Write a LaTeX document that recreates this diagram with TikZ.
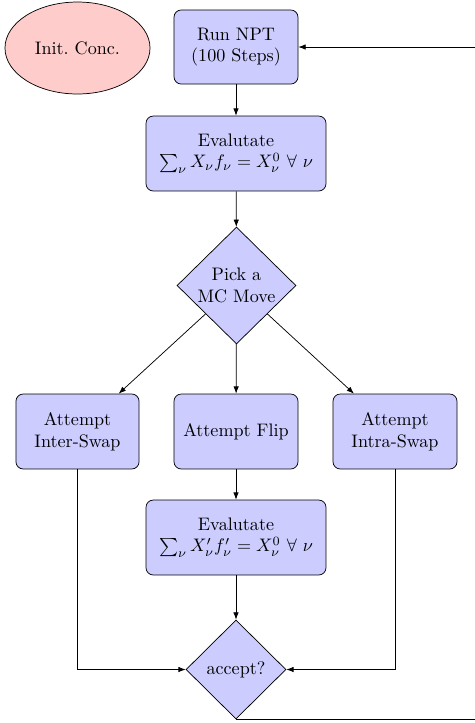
\documentclass[tikz,border=0pt]{standalone}
\usetikzlibrary{shapes.geometric,arrows.meta}
\begin{document}
\begin{tikzpicture}[x=0.5523pt,y=-0.5523pt,
  boxnode/.style={draw,rectangle,rounded corners=4pt,fill=blue!20,align=center,inner sep=2pt},
  decnode/.style={draw,diamond,fill=blue!20,align=center,inner sep=0pt},
  startnode/.style={draw,ellipse,fill=red!20,align=center,inner sep=0pt},
  arr/.style={-{Latex[length=4pt,width=3pt]}}]
\useasboundingbox (0,0) rectangle (474,723);
\node[startnode,minimum width=80.1pt,minimum height=50.8pt] (init) at (77.5,48) {Init.\ Conc.};
\node[boxnode,minimum width=68.5pt,minimum height=40.9pt] (run) at (236,47) {Run NPT\\(100 Steps)};
\node[boxnode,minimum width=99.4pt,minimum height=41.4pt] (eval) at (236,153.5) {Evalutate\\$\sum_{\nu} X_{\nu} f_{\nu} = X_{\nu}^{0}\ \forall\ \nu$};
\node[decnode,minimum width=65.7pt,minimum height=64.6pt] (pick) at (236.5,285.5) {Pick a\\MC Move};
\node[boxnode,minimum width=68pt,minimum height=41.4pt] (inter) at (77.5,431.5) {Attempt\\Inter-Swap};
\node[boxnode,minimum width=68.5pt,minimum height=41.4pt] (flip) at (236,431.5) {Attempt Flip};
\node[boxnode,minimum width=68.5pt,minimum height=41.4pt] (intra) at (395,431.5) {Attempt\\Intra-Swap};
\node[boxnode,minimum width=99.4pt,minimum height=41.4pt] (eval2) at (236,537.5) {Evalutate\\$\sum_{\nu} X'_{\nu} f'_{\nu} = X_{\nu}^{0}\ \forall\ \nu$};
\node[decnode,minimum width=55.2pt,minimum height=54.7pt] (accept) at (236,669.5) {accept?};
\coordinate (far) at (500,47);
\draw[arr] (run) -- (eval);
\draw[arr] (eval) -- (pick);
\draw[arr] (pick) -- (inter);
\draw[arr] (pick) -- (flip);
\draw[arr] (pick) -- (intra);
\draw[arr] (flip) -- (eval2);
\draw[arr] (eval2) -- (accept);
\draw[arr] (inter) |- (accept);
\draw[arr] (intra) |- (accept);
\draw[arr] (accept.south) -| (far) -- (run.east);
\end{tikzpicture}
\end{document}
